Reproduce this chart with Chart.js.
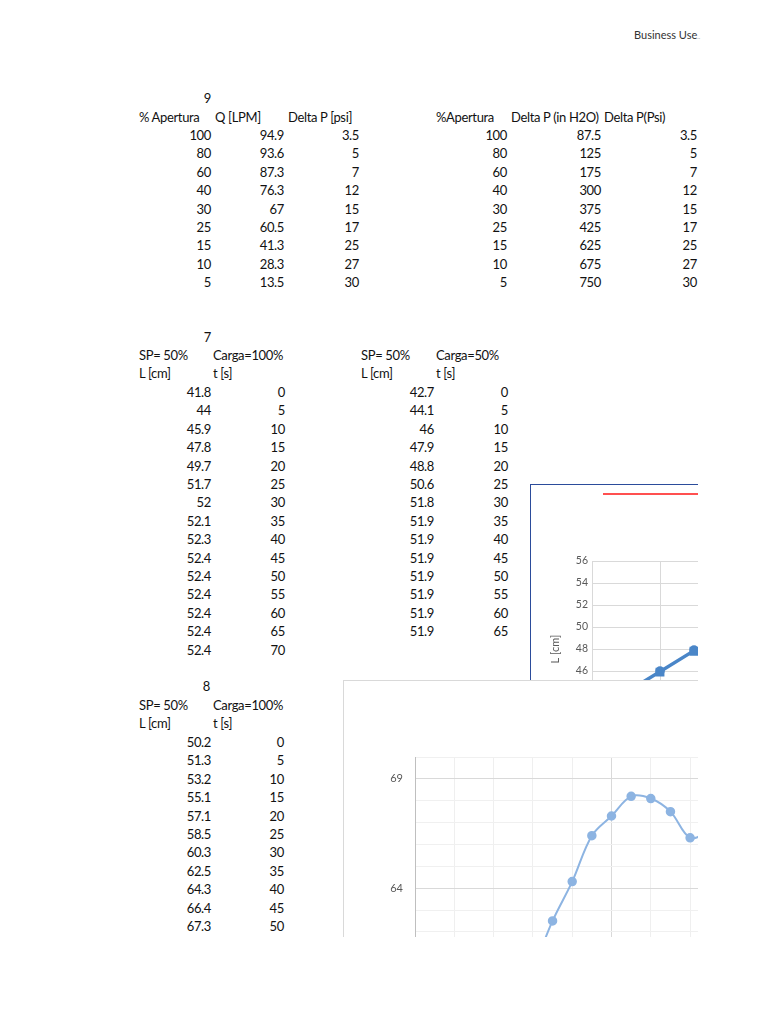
<!DOCTYPE html>
<html>
<head>
<meta charset="utf-8">
<script src="https://cdn.jsdelivr.net/npm/chart.js@4"></script>
<style>
  html, body { margin: 0; padding: 0; background: #fff; }
  #page { position: relative; width: 768px; height: 1024px; overflow: hidden; font-family: Lato, "Open Sans", sans-serif; }
  #clip { position: absolute; left: 0; top: 0; width: 698px; height: 937px; overflow: hidden; }
  .cell { position: absolute; font-size: 13px; letter-spacing: -0.35px; line-height: 18px; color: #111; white-space: nowrap; }
  .r { text-align: right; }
  #box1 { position: absolute; left: 530px; top: 484px; width: 640px; height: 300px; border: 1px solid #2b4c9b; background: #fff; }
  #redline { position: absolute; left: 72px; top: 8px; width: 500px; height: 2px; background: #ff5050; z-index: 5; }
  #box2 { position: absolute; left: 343px; top: 680px; width: 640px; height: 600px; border: 1px solid #d9d9d9; background: #fff; }
  canvas { position: absolute; left: 0; top: 0; }
  #biz { position: absolute; left: 634px; top: 28px; font-size: 11px; color: #333; }
</style>
</head>
<body>
<div id="page">
  <div id="biz">Business Use<span style="font-size:6px;color:#888">..</span></div>
  <div id="clip">
    <div id="box1">
      <canvas id="chart7" width="625" height="292"></canvas>
      <div id="redline"></div>
    </div>
    <div id="box2">
      <canvas id="chart8" width="484" height="575"></canvas>
    </div>
  </div>
</div>

<script>
// tabla 9
const apertura = [100, 80, 60, 40, 30, 25, 15, 10, 5];
const caudalLPM = [94.9, 93.6, 87.3, 76.3, 67, 60.5, 41.3, 28.3, 13.5];
const deltaPpsi = [3.5, 5, 7, 12, 15, 17, 25, 27, 30];
const deltaPinH2O = [87.5, 125, 175, 300, 375, 425, 625, 675, 750];

// tabla 7 (SP=50%)
const tiempo7a = [0, 5, 10, 15, 20, 25, 30, 35, 40, 45, 50, 55, 60, 65, 70];
const nivelCarga100 = [41.8, 44, 45.9, 47.8, 49.7, 51.7, 52, 52.1, 52.3, 52.4, 52.4, 52.4, 52.4, 52.4, 52.4];
const tiempo7b = [0, 5, 10, 15, 20, 25, 30, 35, 40, 45, 50, 55, 60, 65];
const nivelCarga50 = [42.7, 44.1, 46, 47.9, 48.8, 50.6, 51.8, 51.9, 51.9, 51.9, 51.9, 51.9, 51.9, 51.9];

// tabla 8 (SP=50%, Carga=100%)
const tiempo8 = [0, 5, 10, 15, 20, 25, 30, 35, 40, 45, 50, 55, 60, 65, 70, 75];
const nivel8 = [50.2, 51.3, 53.2, 55.1, 57.1, 58.5, 60.3, 62.5, 64.3, 66.4, 67.3, 68.2, 68.1, 67.5, 66.3, 66.6];

// ejes
const ticksY7 = [40, 42, 44, 46, 48, 50, 52, 54, 56];
const ticksY8Mayores = [49, 54, 59, 64, 69];

const clip = document.getElementById('clip');
const box1 = document.getElementById('box1');

function cell(text, x, y, right) {
  const d = document.createElement('div');
  d.className = 'cell' + (right ? ' r' : '');
  d.textContent = text;
  d.style.top = (y - 9) + 'px';
  if (right) {
    d.style.left = (x - 200) + 'px';
    d.style.width = '200px';
  } else {
    d.style.left = x + 'px';
  }
  clip.insertBefore(d, box1);
}

const rowH = 18.4;

// tabla 9 izquierda
cell('9', 211, 98, true);
cell('% Apertura', 139, 117);
cell('Q [LPM]', 215, 117);
cell('Delta P [psi]', 288, 117);
apertura.forEach((v, i) => {
  const y = 135 + i * rowH;
  cell(String(v), 211, y, true);
  cell(String(caudalLPM[i]), 284, y, true);
  cell(String(deltaPpsi[i]), 359, y, true);
});

// tabla 9 derecha
cell('%Apertura', 436, 117);
cell('Delta P (in H2O)', 511, 117);
cell('Delta P(Psi)', 604, 117);
apertura.forEach((v, i) => {
  const y = 135 + i * rowH;
  cell(String(v), 507, y, true);
  cell(String(deltaPinH2O[i]), 601, y, true);
  cell(String(deltaPpsi[i]), 697, y, true);
});

// tabla 7
cell('7', 211, 337, true);
cell('SP= 50%', 139, 355);
cell('Carga=100%', 213, 355);
cell('L [cm]', 139, 373);
cell('t [s]', 213, 373);
tiempo7a.forEach((t, i) => {
  const y = 392 + i * rowH;
  cell(String(nivelCarga100[i]), 211, y, true);
  cell(String(t), 285, y, true);
});
cell('SP= 50%', 361, 355);
cell('Carga=50%', 436, 355);
cell('L [cm]', 361, 373);
cell('t [s]', 436, 373);
tiempo7b.forEach((t, i) => {
  const y = 392 + i * rowH;
  cell(String(nivelCarga50[i]), 434, y, true);
  cell(String(t), 508, y, true);
});

// tabla 8
cell('8', 210, 686, true);
cell('SP= 50%', 139, 705);
cell('Carga=100%', 213, 705);
cell('L [cm]', 139, 723);
cell('t [s]', 213, 723);
tiempo8.forEach((t, i) => {
  const y = 742 + i * rowH;
  cell(String(nivel8[i]), 211, y, true);
  cell(String(t), 284, y, true);
});

const tickFont = { family: 'Lato, "Open Sans", sans-serif', size: 10.5 };

// grafico 7
new Chart(document.getElementById('chart7'), {
  type: 'line',
  data: {
    datasets: [
      {
        label: 'Carga=50%',
        data: tiempo7b.map((t, i) => ({ x: t, y: nivelCarga50[i] })),
        borderColor: '#4a86c8',
        backgroundColor: '#4a86c8',
        borderWidth: 2.5,
        pointStyle: 'circle',
        pointRadius: 3.5
      },
      {
        label: 'Carga=100%',
        data: tiempo7a.map((t, i) => ({ x: t, y: nivelCarga100[i] })),
        borderColor: '#4a86c8',
        backgroundColor: '#4a86c8',
        borderWidth: 2.5,
        pointStyle: 'rect',
        pointRadius: 4.5
      }
    ]
  },
  options: {
    responsive: false,
    animation: false,
    layout: { padding: { top: 76, left: 0, right: 20, bottom: 0 } },
    plugins: { legend: { display: false }, tooltip: { enabled: false } },
    scales: {
      x: {
        type: 'linear', min: 0, max: 80,
        ticks: { stepSize: 10, color: '#595959', font: tickFont },
        grid: { color: '#d9d9d9', drawTicks: false },
        border: { display: false },
        afterFit: s => { s.height = 40; }
      },
      y: {
        type: 'linear', min: ticksY7[0], max: ticksY7[ticksY7.length - 1],
        afterBuildTicks: s => { s.ticks = ticksY7.map(v => ({ value: v })); },
        ticks: { color: '#595959', font: tickFont, padding: 4 },
        grid: { color: '#d9d9d9', drawTicks: false },
        border: { display: false },
        title: { display: true, text: 'L [cm]', color: '#595959', font: { family: tickFont.family, size: 11 }, padding: { top: 18, bottom: 4 } },
        afterFit: s => { s.width = 61; }
      }
    }
  }
});

// grafico 8
const ticksY8 = [];
for (let v = 49; v <= 70; v++) ticksY8.push(v);

new Chart(document.getElementById('chart8'), {
  type: 'line',
  data: {
    datasets: [{
      label: 'Carga=100%',
      data: tiempo8.map((t, i) => ({ x: t, y: nivel8[i] })),
      borderColor: '#8db4e2',
      backgroundColor: '#8db4e2',
      borderWidth: 2,
      pointRadius: 3.75,
      tension: 0.35
    }]
  },
  options: {
    responsive: false,
    animation: false,
    layout: { padding: { top: 76, left: 0, right: 20, bottom: 0 } },
    plugins: { legend: { display: false }, tooltip: { enabled: false } },
    scales: {
      x: {
        type: 'linear', min: 0, max: 100,
        ticks: { stepSize: 10, color: '#595959', font: tickFont },
        grid: {
          drawTicks: false,
          color: c => c.tick && c.tick.value === 0 ? '#bfbfbf' : (c.tick && c.tick.value % 50 === 0 ? '#d9d9d9' : '#efefef')
        },
        border: { display: false },
        afterFit: s => { s.height = 40; }
      },
      y: {
        type: 'linear', min: 49, max: 70,
        afterBuildTicks: s => { s.ticks = ticksY8.map(v => ({ value: v })); },
        ticks: {
          autoSkip: false, color: '#595959', font: { family: tickFont.family, size: 11 }, padding: 12,
          callback: v => ticksY8Mayores.includes(v) ? String(v) : ''
        },
        grid: {
          drawTicks: false,
          color: c => c.tick && ticksY8Mayores.includes(c.tick.value) ? '#d9d9d9' : '#f0f0f0'
        },
        border: { display: true, color: '#bfbfbf' },
        afterFit: s => { s.width = 71; }
      }
    }
  }
});
</script>
</body>
</html>
